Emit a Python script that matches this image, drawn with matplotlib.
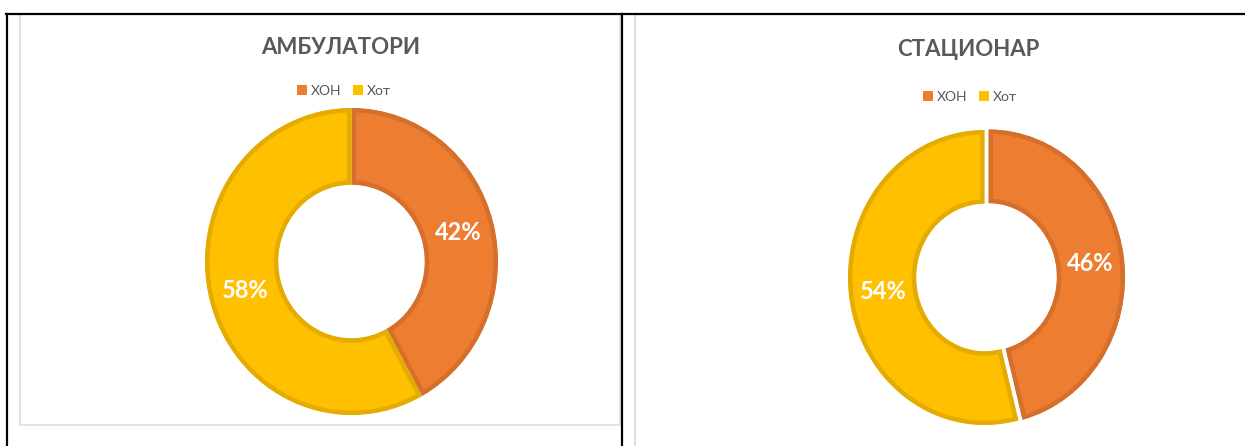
import matplotlib
matplotlib.use('Agg')
import matplotlib.pyplot as plt
from matplotlib.patches import Patch, Rectangle
from matplotlib.lines import Line2D

W, H = 1245, 446

categories = ['ХОН', 'Хот']
ambulatory_share = [42, 58]
inpatient_share = [46, 54]
titles = ['АМБУЛАТОРИ', 'СТАЦИОНАР']

fill_colors = ['#ED7D31', '#FFC000']
edge_colors = ['#D5702C', '#E4AC00']
text_gray = '#595959'

plt.rcParams['font.family'] = ['Lato', 'Open Sans', 'DejaVu Sans']

fig = plt.figure(figsize=(W / 100, H / 100), dpi=100)


def fx(px):
    return px / W


def fy(py):
    return 1 - py / H


def donut(cx, cy, rx, ry, values, explode, pad=1.1):
    ax = fig.add_axes([fx(cx - pad * rx), fy(cy + pad * ry),
                       2 * pad * rx / W, 2 * pad * ry / H])
    wedges, _, autotexts = ax.pie(
        values, colors=fill_colors, startangle=90, counterclock=False,
        explode=explode, radius=1.0,
        wedgeprops=dict(width=0.5, linewidth=6.5),
        autopct=lambda p: f'{p:.0f}%', pctdistance=0.75,
        textprops=dict(color='white', fontsize=17, fontweight='bold'))
    for w, ec in zip(wedges, edge_colors):
        w.set_edgecolor(ec)
        w.set_clip_path(w)
        w.set_clip_on(True)
    ax.set_aspect('auto')
    ax.set_xlim(-pad, pad)
    ax.set_ylim(-pad, pad)
    ax.axis('off')
    return ax


# table frame and chart borders
fig.add_artist(Rectangle((fx(20), fy(425)), 600 / W, 411 / H, fill=False,
                         ec='#DEDEDE', lw=1.2, transform=fig.transFigure, zorder=1))
fig.add_artist(Line2D([fx(635), fx(635)], [fy(14), 0], color='#DEDEDE', lw=1.5,
                      transform=fig.transFigure, zorder=1))
fig.add_artist(Line2D([fx(6), 1], [fy(14), fy(14)], color='black', lw=1.6,
                      transform=fig.transFigure, zorder=5))
fig.add_artist(Line2D([fx(7), fx(7)], [fy(14), 0], color='black', lw=1.6,
                      transform=fig.transFigure, zorder=5))
fig.add_artist(Line2D([fx(621.5), fx(621.5)], [fy(14), 0], color='black', lw=1.6,
                      transform=fig.transFigure, zorder=5))

donut(351.5, 261.5, 146.5, 153.5, ambulatory_share, [0, 0])
donut(984.5, 277.5, 136.5, 147.5, inpatient_share, [0.03, 0])

fig.text(fx(341), fy(47), titles[0], ha='center', va='center',
         fontsize=16, fontweight='bold', color=text_gray)
fig.text(fx(968), fy(50), titles[1], ha='center', va='center',
         fontsize=16, fontweight='bold', color=text_gray)

handles = [Patch(facecolor=c, edgecolor='none') for c in fill_colors]
for x, y in [(344, 91), (970, 97)]:
    fig.legend(handles=handles, labels=categories, loc='center',
               bbox_to_anchor=(fx(x), fy(y)), ncol=2, frameon=False,
               fontsize=10, handlelength=0.7, handleheight=0.7,
               handletextpad=0.3, columnspacing=0.8, labelcolor=text_gray)

fig.savefig('out.png', dpi=100)
